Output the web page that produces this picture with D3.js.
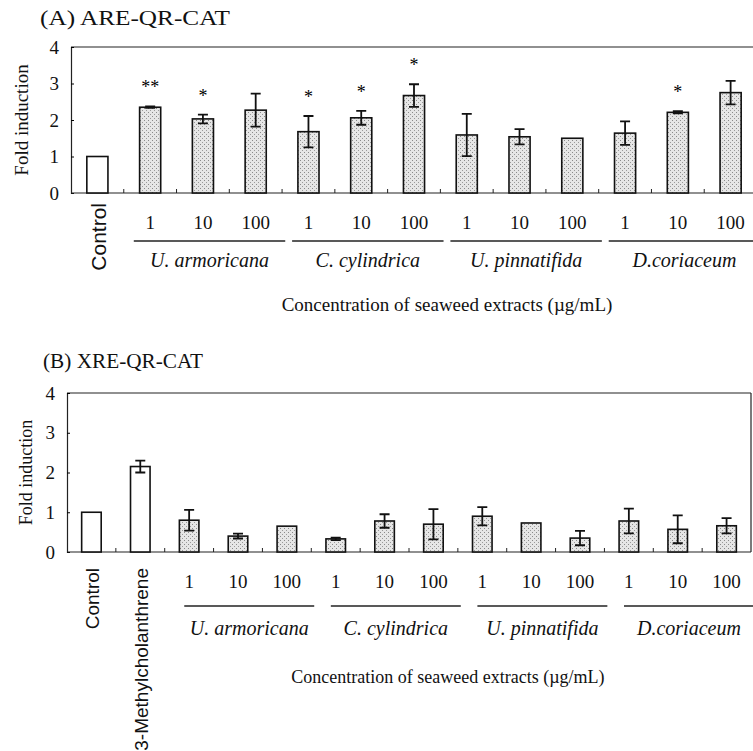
<!DOCTYPE html>
<html lang="en">
<head>
    <meta charset="UTF-8">
    <title>ARE / XRE QR-CAT fold induction</title>
    <style>
        body { margin: 0; background: #fff; }
        svg { display: block; }
        svg text { font-family: "Liberation Serif", "Times New Roman", serif; fill: #111; }
        .bar { stroke: #111; stroke-width: 1.6px; }
        .err { stroke: #111; stroke-width: 1.8px; fill: none; }
        .frame { stroke: #222; stroke-width: 1.2px; fill: none; }
    </style>
</head>
<body>
    <div id="chart"></div>
    <script src="https://cdn.jsdelivr.net/npm/d3@7/dist/d3.min.js"></script>
    <script>
        // Seaweed species and concentrations (ug/mL)
        const species = ["U. armoricana", "C. cylindrica", "U. pinnatifida", "D.coriaceum"];
        const concs = ["1", "10", "100"];
        const yTicks = [0, 1, 2, 3, 4];

        // (A) ARE-QR-CAT: control, then 4 species x 3 concentrations
        const controlsA = ["Control"];
        const meansA = [1.0, 2.35, 2.03, 2.27, 1.68, 2.06, 2.67, 1.59, 1.54, 1.50, 1.64, 2.21, 2.75];
        const errA = [0, 0.02, 0.12, 0.45, 0.43, 0.19, 0.31, 0.58, 0.21, 0, 0.32, 0.03, 0.32];
        const starsA = ["", "**", "*", "", "*", "*", "*", "", "", "", "", "*", ""];

        // (B) XRE-QR-CAT: control, 3-MC, then 4 species x 3 concentrations
        const controlsB = ["Control", "3-Methylcholanthrene"];
        const meansB = [1.0, 2.15, 0.80, 0.40, 0.65, 0.33, 0.78, 0.70, 0.90, 0.73, 0.35, 0.78, 0.57, 0.66];
        const errB = [0, 0.15, 0.26, 0.06, 0, 0.03, 0.17, 0.38, 0.23, 0, 0.18, 0.31, 0.35, 0.19];
        const starsB = meansB.map(() => "");

        const SERIF = '"Liberation Serif", "Times New Roman", serif';
        const SANS = '"Liberation Sans", Arial, sans-serif';

        const svg = d3.select("#chart").append("svg")
            .attr("width", 753)
            .attr("height", 751);

        // stippled fill used for the extract bars
        const pat = svg.append("defs").append("pattern")
            .attr("id", "stipple")
            .attr("patternUnits", "userSpaceOnUse")
            .attr("width", 4).attr("height", 4);
        pat.append("rect").attr("width", 4).attr("height", 4).attr("fill", "#e6e6e6");
        pat.append("rect").attr("x", 0).attr("y", 0).attr("width", 1).attr("height", 1).attr("fill", "#8a8a8a");
        pat.append("rect").attr("x", 2).attr("y", 2).attr("width", 1).attr("height", 1).attr("fill", "#9a9a9a");

        function label(g, size, family) {
            return g.append("text")
                .style("font-family", family || SERIF)
                .style("font-size", size + "px")
                .style("fill", "#111");
        }

        function drawPanel(controls, means, errs, stars, p) {
            const g = svg.append("g");
            const ids = means.map((d, i) => i);
            const x = d3.scaleBand().domain(ids).range([p.x0, p.x1])
                .paddingInner(0.6).paddingOuter(0.3);
            const y = d3.scaleLinear().domain([0, 4]).range([p.yBot, p.yTop]);
            const cx = i => x(i) + x.bandwidth() / 2;

            // title
            label(g, p.titleSize)
                .attr("x", p.titleX).attr("y", p.titleY)
                .attr("textLength", p.titleLen).attr("lengthAdjust", "spacingAndGlyphs")
                .text(p.title);

            // frame: top and (optionally) right edge
            g.append("line").attr("class", "frame")
                .attr("x1", p.x0).attr("x2", p.x1)
                .attr("y1", y(4)).attr("y2", y(4));
            if (p.frameRight) {
                g.append("line").attr("class", "frame")
                    .attr("x1", p.x1).attr("x2", p.x1)
                    .attr("y1", y(4)).attr("y2", y(0));
            }

            // y axis
            const yAxis = d3.axisLeft(y).tickValues(yTicks).tickSize(-3).tickPadding(12).tickFormat(d3.format("d"));
            const ya = g.append("g").attr("transform", `translate(${p.x0},0)`).call(yAxis);
            ya.select(".domain").attr("stroke", "#222").attr("stroke-width", 1.2);
            ya.selectAll(".tick text")
                .style("font-size", "19px").style("font-family", SERIF).style("fill", "#111");

            // x baseline with small upward ticks between bars
            const bounds = d3.range(1, means.length).map(i => x(i) - x.step() * x.paddingInner() / 2);
            g.append("line").attr("class", "frame")
                .attr("x1", p.x0).attr("x2", p.x1)
                .attr("y1", y(0)).attr("y2", y(0));
            g.selectAll(".xt").data(bounds).enter().append("line")
                .attr("stroke", "#222").attr("stroke-width", 1)
                .attr("x1", d => d).attr("x2", d => d)
                .attr("y1", y(0)).attr("y2", y(0) - 4);

            // y label
            label(g, p.ylabelSize)
                .attr("transform", `translate(${p.ylabelX},${(y(0) + y(4)) / 2}) rotate(-90)`)
                .attr("text-anchor", "middle")
                .text("Fold induction");

            // bars
            g.selectAll(".bar").data(ids).enter().append("rect")
                .attr("class", "bar")
                .attr("x", i => x(i))
                .attr("width", x.bandwidth())
                .attr("y", i => y(means[i]))
                .attr("height", i => y(0) - y(means[i]))
                .attr("fill", i => i < controls.length ? "#fff" : "url(#stipple)");

            // error bars
            const withErr = ids.filter(i => errs[i] > 0);
            const cap = 5;
            g.selectAll(".err").data(withErr).enter().append("path")
                .attr("class", "err")
                .attr("d", i => {
                    const c = cx(i), hi = y(means[i] + errs[i]), lo = y(means[i] - errs[i]);
                    return `M${c},${hi}V${lo}M${c - cap},${hi}H${c + cap}M${c - cap},${lo}H${c + cap}`;
                });

            // significance stars
            ids.filter(i => stars[i]).forEach(i => {
                label(g, 18)
                    .attr("x", cx(i))
                    .attr("y", y(means[i] + errs[i]) - 13)
                    .attr("text-anchor", "middle")
                    .style("fill", "#000")
                    .text(stars[i]);
            });

            // rotated control labels
            controls.forEach((name, i) => {
                label(g, p.ctrlSize, SANS)
                    .attr("transform", `translate(${cx(i) + p.ctrlSize * 0.42},${p.ctrlTop}) rotate(-90)`)
                    .attr("text-anchor", "end")
                    .text(name);
            });

            // concentration numbers, underlines and species names
            species.forEach((sp, s) => {
                const first = controls.length + s * concs.length;
                const last = first + concs.length - 1;
                concs.forEach((c, k) => {
                    label(g, 19)
                        .attr("x", cx(first + k)).attr("y", p.numY)
                        .attr("text-anchor", "middle")
                        .text(c);
                });
                const lx1 = cx(first) + p.lineL * x.step();
                const lx2 = cx(last) + p.lineR * x.step();
                g.append("line")
                    .attr("stroke", "#222").attr("stroke-width", 1.3)
                    .attr("x1", lx1).attr("x2", lx2)
                    .attr("y1", p.lineY).attr("y2", p.lineY);
                label(g, p.nameSize)
                    .attr("x", (lx1 + lx2) / 2).attr("y", p.nameY)
                    .attr("text-anchor", "middle")
                    .style("font-style", "italic")
                    .text(sp);
            });

            // x axis title
            label(g, p.xlabelSize)
                .attr("x", p.xlabelX).attr("y", p.xlabelY)
                .attr("text-anchor", "middle")
                .text("Concentration of seaweed extracts (\u00b5g/mL)");
        }

        drawPanel(controlsA, meansA, errA, starsA, {
            title: "(A) ARE-QR-CAT", titleX: 40, titleY: 25, titleLen: 190, titleSize: 21,
            x0: 71, x1: 757, yTop: 47, yBot: 193, frameRight: false,
            ylabelX: 28, ylabelSize: 19,
            ctrlTop: 203, ctrlSize: 21,
            numY: 229, lineY: 241, lineL: -0.31, lineR: 0.56, nameY: 267, nameSize: 20,
            xlabelX: 447, xlabelY: 311, xlabelSize: 19
        });

        drawPanel(controlsB, meansB, errB, starsB, {
            title: "(B) XRE-QR-CAT", titleX: 43, titleY: 368, titleLen: 160, titleSize: 20,
            x0: 67, x1: 751, yTop: 393, yBot: 552, frameRight: true,
            ylabelX: 32, ylabelSize: 18,
            ctrlTop: 568, ctrlSize: 19,
            numY: 588, lineY: 606, lineL: -0.1, lineR: 0.56, nameY: 635, nameSize: 20,
            xlabelX: 448, xlabelY: 683, xlabelSize: 18
        });
    </script>
</body>
</html>
